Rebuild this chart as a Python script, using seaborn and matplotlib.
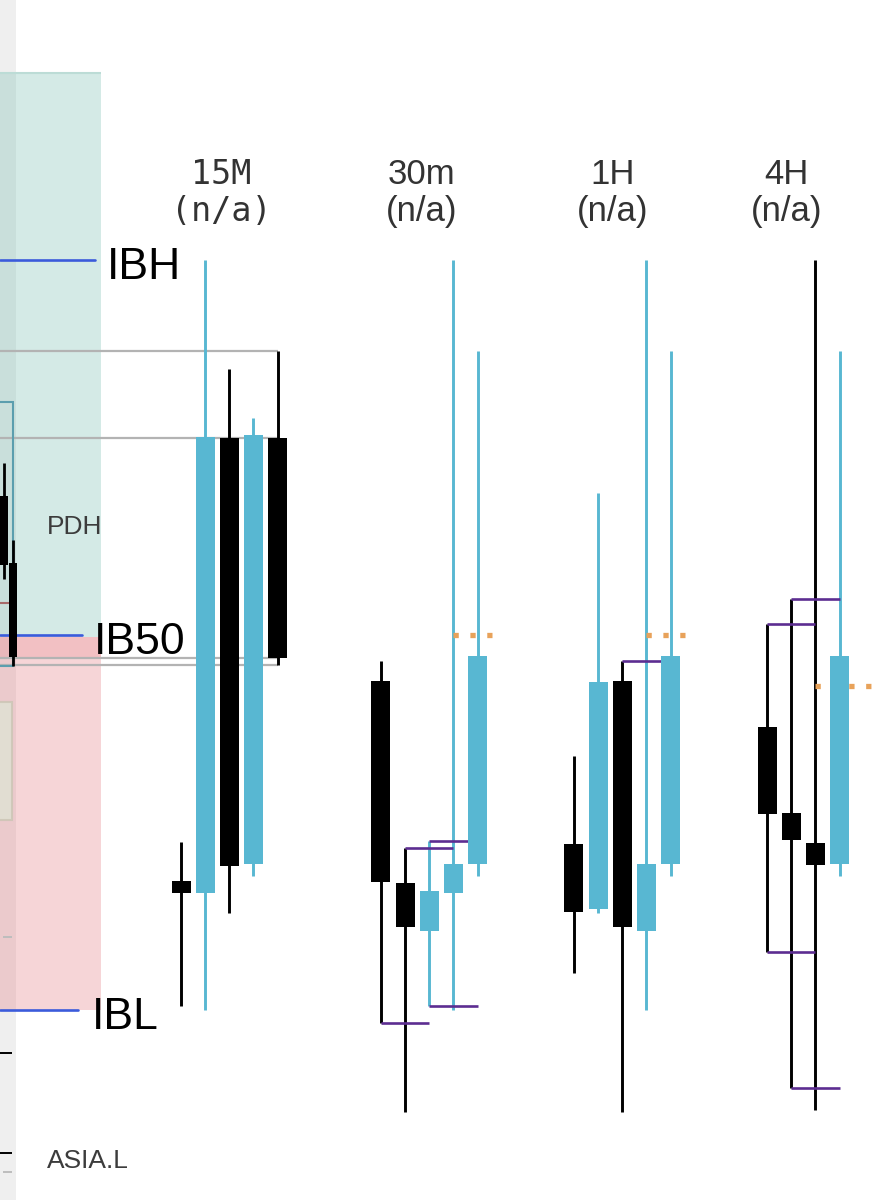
import matplotlib

matplotlib.use("Agg")

import matplotlib.pyplot as plt
import pandas as pd
import seaborn as sns
from matplotlib.patches import Rectangle

# --- data (prices) ---
timeframes = ["15M", "30m", "1H", "4H"]
subtitles = ["(n/a)", "(n/a)", "(n/a)", "(n/a)"]

opens_15m = [21344.75, 21341.75, 21455.5, 21349.0, 21455.5]
highs_15m = [21354.5, 21500.0, 21472.75, 21460.5, 21477.25]
lows_15m = [21313.5, 21312.5, 21336.75, 21346.0, 21398.75]
closes_15m = [21341.75, 21455.75, 21348.5, 21456.25, 21400.5]

opens_30m = [21394.75, 21344.25, 21332.25, 21341.75, 21349.0]
highs_30m = [21399.75, 21353.0, 21354.75, 21500.0, 21477.25]
lows_30m = [21309.25, 21287.0, 21313.5, 21312.5, 21346.0]
closes_30m = [21344.5, 21333.25, 21342.25, 21349.0, 21401.0]

opens_1h = [21354.0, 21337.75, 21394.75, 21332.25, 21349.0]
highs_1h = [21376.0, 21441.75, 21399.75, 21500.0, 21477.25]
lows_1h = [21321.75, 21336.75, 21287.0, 21312.5, 21346.0]
closes_1h = [21337.0, 21394.5, 21333.25, 21349.0, 21401.0]

opens_4h = [21383.25, 21361.75, 21354.25, 21349.0]
highs_4h = [21409.0, 21415.25, 21500.0, 21477.25]
lows_4h = [21327.0, 21293.0, 21287.5, 21346.0]
closes_4h = [21361.5, 21355.0, 21348.75, 21401.0]

# initial balance levels
level_names = ["IBH", "IB50", "IBL"]
level_prices = [21500.0, 21406.25, 21312.5]

# swing lines: (timeframe, from candle, to candle, price)
swing_lines = [
    (1, 0, 2, 21309.25),
    (1, 1, 3, 21353.0),
    (1, 2, 3.6, 21354.75),
    (1, 2, 4, 21313.5),
    (2, 2, 3.6, 21399.75),
    (3, 0, 2, 21409.0),
    (3, 0, 2, 21327.0),
    (3, 1, 3, 21415.25),
    (3, 1, 3, 21293.0),
]

# dotted mid lines: (timeframe, from candle, to candle, price)
mid_lines = [
    (1, 3, 4.6, 21406.25),
    (2, 3, 4.6, 21406.25),
    (3, 2, 4.5, 21393.5),
]

# cropped main chart on the left
left_opens = [21441.0, 21424.25]
left_highs = [21449.25, 21430.0]
left_lows = [21420.25, 21398.5]
left_closes = [21423.75, 21400.75]
pdh_zone = [21405.75, 21546.75]
ib_low_zone = [21312.5, 21405.75]
left_box = [21398.5, 21464.5]
left_box2 = [21360.0, 21389.5]

# --- layout ---
PX = 24.15            # pixels per candle slot
W, H = 872, 1200
group_offsets = [0.0, 8.28, 16.27, 24.27]
title_shift = [1.67, 1.67, 1.6, 0.8]
CYAN = "#58b7d2"
PURPLE = "#5c2d91"


def slot(px):
    return (px - 181) / PX


ohlc = [
    (opens_15m, highs_15m, lows_15m, closes_15m),
    (opens_30m, highs_30m, lows_30m, closes_30m),
    (opens_1h, highs_1h, lows_1h, closes_1h),
    (opens_4h, highs_4h, lows_4h, closes_4h),
]

rows = []
for g, (o, h, l, c) in enumerate(ohlc):
    for i in range(len(o)):
        rows.append(dict(tf=timeframes[g], x=group_offsets[g] + i,
                         open=o[i], high=h[i], low=l[i], close=c[i]))
df = pd.DataFrame(rows)
df["bull"] = df["close"] > df["open"]
df["color"] = df["bull"].map({True: CYAN, False: "black"})

sns.set_theme(style="white")
plt.rcParams["font.family"] = ["Liberation Sans", "DejaVu Sans"]

fig = plt.figure(figsize=(W / 100, H / 100), dpi=100)
ax = fig.add_axes([0, 0, 1, 1])
x0, x1 = slot(0), slot(W)
ax.set_xlim(x0, x1)
ax.set_ylim(21265, 21565)
ax.axis("off")

# left strip and zones
ax.add_patch(Rectangle((0, 0), 16 / W, 1, transform=ax.transAxes,
                       color="#efefef", lw=0, zorder=0))
ax.axhspan(pdh_zone[0], pdh_zone[1], xmax=101 / W,
           color=(115 / 255, 188 / 255, 175 / 255), alpha=0.3, lw=0, zorder=1)
ax.hlines(pdh_zone[1], x0, slot(101), color="#bcdcd6", lw=1.5, zorder=1)
ax.axhspan(ib_low_zone[0], ib_low_zone[1], xmax=101 / W,
           color=(228 / 255, 118 / 255, 125 / 255), alpha=0.3, lw=0, zorder=1)
ax.axhspan(closes_15m[-1], ib_low_zone[1], xmax=101 / W,
           color=(228 / 255, 118 / 255, 125 / 255), alpha=0.22, lw=0, zorder=1)

# left chart pieces
ax.add_patch(Rectangle((x0 - 1, left_box2[0]), slot(12) - x0 + 1,
                       left_box2[1] - left_box2[0], facecolor="#dfe2d4",
                       edgecolor="#cbc4b4", lw=1.5, alpha=0.8, zorder=2))
ax.add_patch(Rectangle((x0 - 1, left_box[0]), slot(13) - x0 + 1,
                       left_box[1] - left_box[0], fill=False,
                       edgecolor="#5b9eae", lw=1.5, zorder=3))
ax.hlines(21414.25, x0, slot(10), color="#a86a6a", lw=1.5, zorder=3)
ax.hlines([21301.75, 21276.75], x0, slot(12), color="black", lw=1.4, zorder=3)
ax.hlines([21330.75, 21272.0], slot(3), slot(12), color="#bdbdbd", lw=1.4, zorder=3)
left_x = [slot(4), slot(12.7)]
for x, o, h, l, c in zip(left_x, left_opens, left_highs, left_lows, left_closes):
    ax.vlines(x, l, h, color="black", lw=2.0, zorder=4)
    ax.bar(x, abs(c - o), bottom=min(o, c), width=7.8 / PX,
           color="black", lw=0, zorder=5)

# gray lines from last 15M candle
last = df[df["tf"] == "15M"].iloc[-1]
ax.hlines([last["high"], last["open"], last["close"], last["low"]],
          x0, last["x"], color="#b3b3b3", lw=1.6, zorder=2)

# initial balance levels
level_ends = [95, 82, 78]
label_starts = [107, 94, 92]
for name, price, end, start in zip(level_names, level_prices,
                                   level_ends, label_starts):
    ax.axhline(price, xmax=end / W, color="#3b5bdb", lw=1.9, zorder=3)
    ax.annotate(name, xy=(start / W, price),
                xycoords=("axes fraction", "data"),
                xytext=(0, -19), textcoords="offset pixels",
                va="baseline", ha="left", fontsize=32, color="black")

ax.text(47 / W, 1 - 534 / H, "PDH", transform=ax.transAxes,
        fontsize=19, color="#3c3c3c", va="baseline")
ax.text(47 / W, 1 - 1168 / H, "ASIA.L", transform=ax.transAxes,
        fontsize=19, color="#3c3c3c", va="baseline")

# wicks, swing lines, mid lines, bodies
ax.vlines(df["x"], df["low"], df["high"], colors=df["color"], lw=2.1, zorder=3)

for g, i0, i1, price in swing_lines:
    ax.hlines(price, group_offsets[g] + i0, group_offsets[g] + i1,
              color=PURPLE, lw=1.9, zorder=4)

for g, i0, i1, price in mid_lines:
    ax.hlines(price, group_offsets[g] + i0, group_offsets[g] + i1,
              color="#e8a25a", lw=3.8, linestyles=(0, (1, 2.2)), zorder=4)

ax.bar(df["x"], (df["close"] - df["open"]).abs(),
       bottom=df[["open", "close"]].min(axis=1),
       width=19 / PX, color=df["color"], lw=0, zorder=5)

# timeframe titles
xt = ax.get_xaxis_transform()
for g, (name, sub) in enumerate(zip(timeframes, subtitles)):
    if g == 0:
        fam, size = ["DejaVu Sans Mono"], 24
    else:
        fam, size = ["Liberation Sans", "DejaVu Sans"], 25
    tx = group_offsets[g] + title_shift[g]
    ax.text(tx, 1 - 184 / H, name, transform=xt, ha="center",
            va="baseline", fontsize=size, color="#333333", family=fam)
    ax.text(tx, 1 - 221 / H, sub, transform=xt, ha="center",
            va="baseline", fontsize=size, color="#333333", family=fam)

fig.savefig("out.png", dpi=100)
plt.close(fig)
